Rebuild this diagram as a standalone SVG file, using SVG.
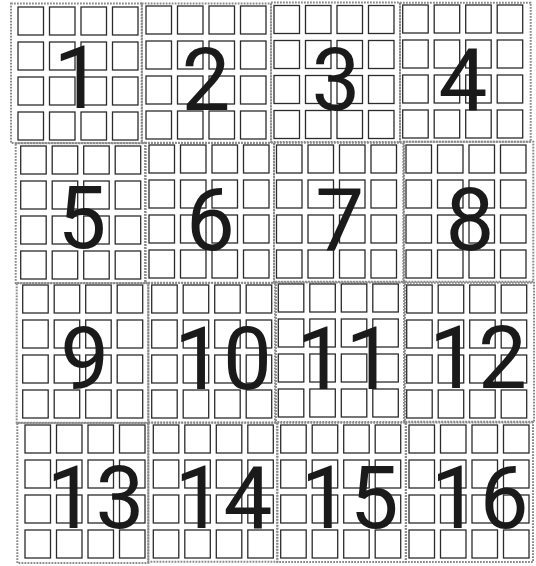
<svg xmlns="http://www.w3.org/2000/svg" xmlns:xlink="http://www.w3.org/1999/xlink" width="536" height="566" viewBox="0 0 536 566">
<style>
.cell{fill:#fff;stroke:#2b2b2b;stroke-width:1.3}
.frame{fill:none;stroke:#8a8a8a;stroke-width:2;stroke-dasharray:1.8 1.2}
.num{font-family:Roboto,"Liberation Sans",Arial,Helvetica,sans-serif;font-size:87px;fill:#1a1a1a;text-anchor:middle}
</style>
<defs>
<g id="cells">
<rect class="cell" x="0" y="0" width="25.5" height="28"/><rect class="cell" x="31.5" y="0" width="25.5" height="28"/><rect class="cell" x="63" y="0" width="25.5" height="28"/><rect class="cell" x="94.5" y="0" width="25.5" height="28"/>
<rect class="cell" x="0" y="35" width="25.5" height="28"/><rect class="cell" x="31.5" y="35" width="25.5" height="28"/><rect class="cell" x="63" y="35" width="25.5" height="28"/><rect class="cell" x="94.5" y="35" width="25.5" height="28"/>
<rect class="cell" x="0" y="70" width="25.5" height="28"/><rect class="cell" x="31.5" y="70" width="25.5" height="28"/><rect class="cell" x="63" y="70" width="25.5" height="28"/><rect class="cell" x="94.5" y="70" width="25.5" height="28"/>
<rect class="cell" x="0" y="105" width="25.5" height="28"/><rect class="cell" x="31.5" y="105" width="25.5" height="28"/><rect class="cell" x="63" y="105" width="25.5" height="28"/><rect class="cell" x="94.5" y="105" width="25.5" height="28"/>
</g>
</defs>
<rect width="536" height="566" fill="#fff"/>
<g id="block1"><use href="#cells" x="18" y="7"/><rect class="frame" x="11" y="3.5" width="131" height="139.5"/><text class="num" x="78" y="108">1</text></g>
<g id="block2"><use href="#cells" x="146" y="6"/><rect class="frame" x="141.7" y="3.5" width="129.3" height="139.5"/><text class="num" x="206" y="110">2</text></g>
<g id="block3"><use href="#cells" x="274" y="5.5"/><rect class="frame" x="271" y="2.5" width="129" height="139.5"/><text class="num" x="336" y="110">3</text></g>
<g id="block4"><use href="#cells" x="402.7" y="5"/><rect class="frame" x="400" y="2.7" width="130.7" height="139"/><text class="num" x="463" y="110">4</text></g>
<g id="block5"><use href="#cells" x="20.7" y="146"/><rect class="frame" x="15.7" y="143.3" width="130" height="139.7"/><text class="num" x="82" y="247.5">5</text></g>
<g id="block6"><use href="#cells" x="149" y="145"/><rect class="frame" x="145" y="142.7" width="129" height="140"/><text class="num" x="210.5" y="249.5">6</text></g>
<g id="block7"><use href="#cells" x="276.5" y="145"/><rect class="frame" x="274" y="142.7" width="130" height="139.8"/><text class="num" x="339.7" y="250.5">7</text></g>
<g id="block8"><use href="#cells" x="406" y="145"/><rect class="frame" x="403.3" y="141.7" width="130" height="140"/><text class="num" x="470" y="250">8</text></g>
<g id="block9"><use href="#cells" x="22.7" y="285"/><rect class="frame" x="16.7" y="283.3" width="131.6" height="139.4"/><text class="num" x="84.7" y="388.5">9</text></g>
<g id="block10"><use href="#cells" x="151.7" y="285"/><rect class="frame" x="148.3" y="283" width="127.7" height="139.5"/><text class="num" x="223" y="389">10</text></g>
<g id="block11"><use href="#cells" x="278.3" y="284"/><rect class="frame" x="275" y="281.7" width="130" height="140.3"/><text class="num" x="345.5" y="389">11</text></g>
<g id="block12"><use href="#cells" x="406.7" y="285"/><rect class="frame" x="404" y="282.7" width="130" height="139"/><text class="num" x="478" y="388.3">12</text></g>
<g id="block13"><use href="#cells" x="25" y="425"/><rect class="frame" x="17.3" y="423" width="131" height="140"/><text class="num" x="95.5" y="528">13</text></g>
<g id="block14"><use href="#cells" x="153.3" y="425"/><rect class="frame" x="148.3" y="422.7" width="129" height="139"/><text class="num" x="223.5" y="528.3">14</text></g>
<g id="block15"><use href="#cells" x="280.7" y="425"/><rect class="frame" x="277.3" y="422.7" width="128.7" height="139.3"/><text class="num" x="349.7" y="528">15</text></g>
<g id="block16"><use href="#cells" x="409" y="425"/><rect class="frame" x="405.7" y="422.5" width="127.3" height="139.5"/><text class="num" x="479.7" y="528">16</text></g>
<g id="connectors"></g>
</svg>
